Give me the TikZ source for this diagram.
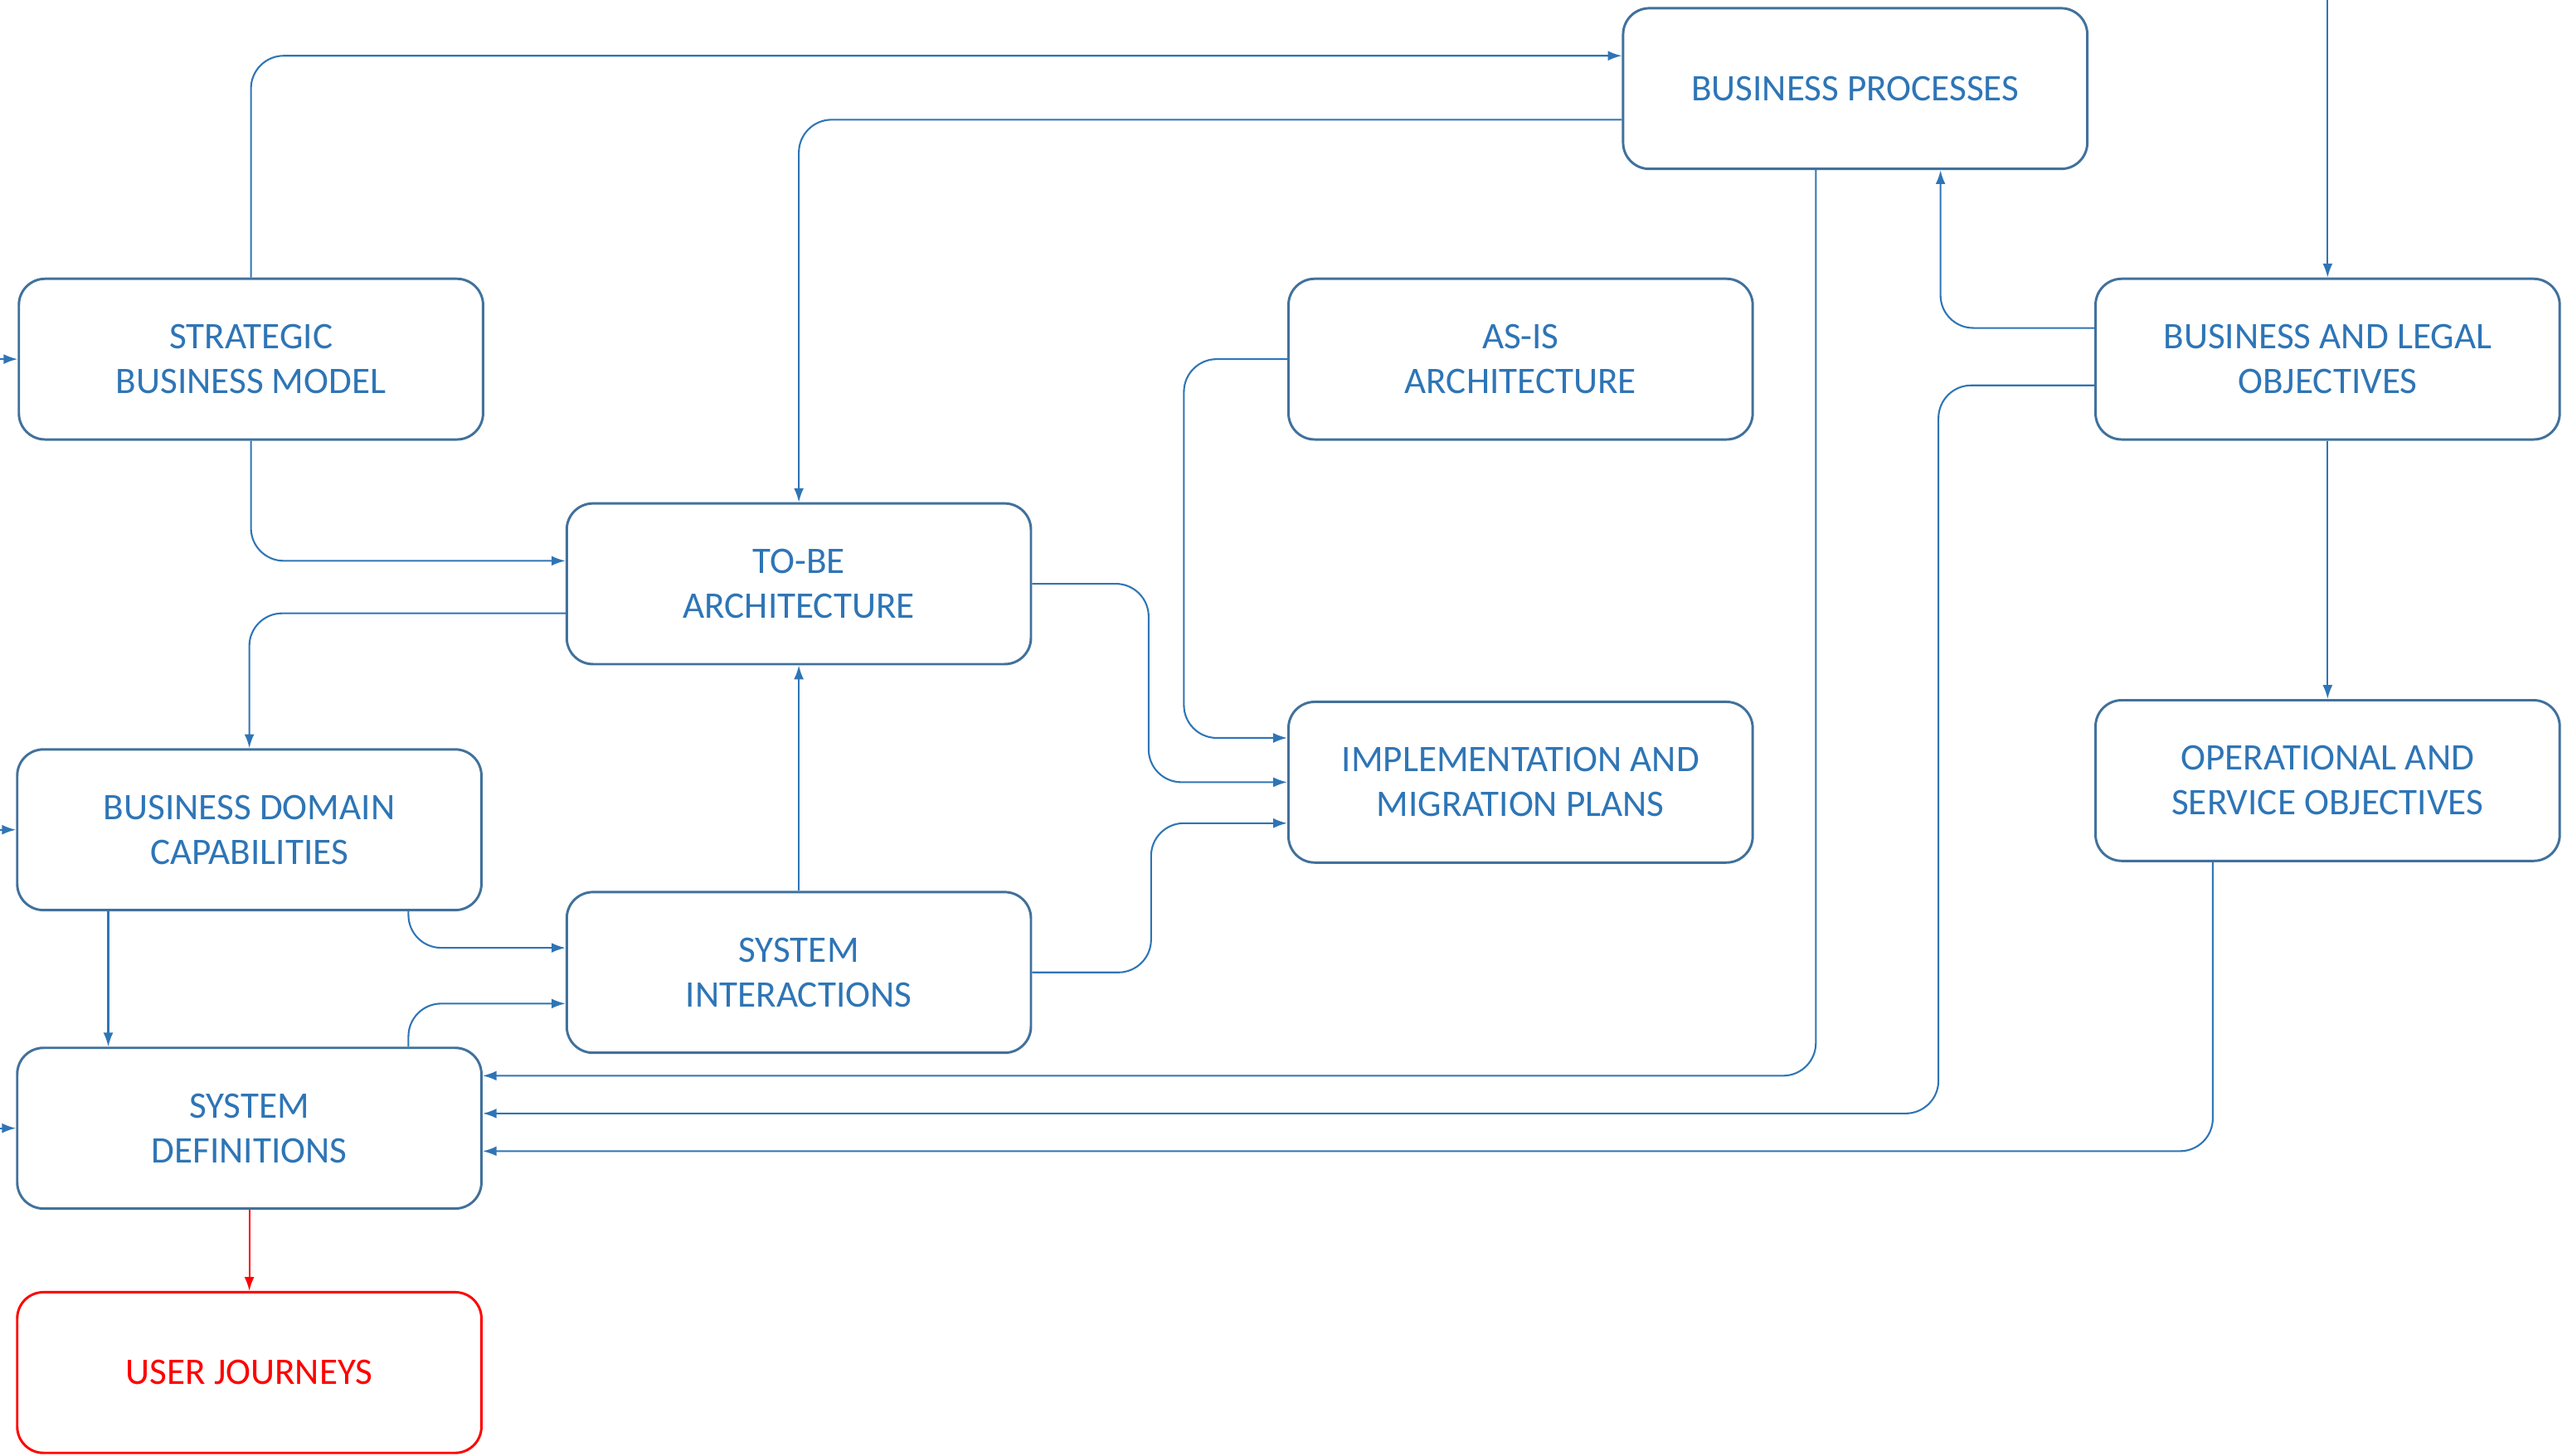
\documentclass[tikz,border=0pt]{standalone}
\usepackage{fontspec}
\setmainfont{Carlito}
\usepackage{tikz}
\usetikzlibrary{arrows.meta, positioning}

\definecolor{linkblue}{HTML}{2E75B6}
\definecolor{edgeblue}{HTML}{41719C}

\begin{document}
\begin{tikzpicture}[box/.style={rectangle, rounded corners=0.32cm, draw=edgeblue, line width=0.85pt, minimum width=5.66cm, minimum height=1.96cm, inner sep=0pt, align=center, text=linkblue, font=\fontsize{13}{15.5}\selectfont},
	journey/.style={box, draw=red, text=red},
	conn/.style={->, draw=linkblue, line width=0.6pt, rounded corners=0.4cm},
	>={Latex[length=1.7mm,width=1.2mm]}]
			\useasboundingbox (0,0) rectangle (31.36,-17.75);

			\node[box] (sbm) at (3.06,-4.38) {STRATEGIC\\BUSINESS MODEL};
			\node[box] (bp) at (22.62,-1.08) {BUSINESS PROCESSES};
			\node[box] (tba) at (9.74,-7.12) {TO-BE\\ARCHITECTURE};
			\node[box] (asis) at (18.54,-4.38) {AS-IS\\ARCHITECTURE};
			\node[box] (blo) at (28.38,-4.38) {BUSINESS AND LEGAL\\OBJECTIVES};
			\node[box] (bdc) at (3.04,-10.12) {BUSINESS DOMAIN\\CAPABILITIES};
			\node[box] (imp) at (18.54,-9.54) {IMPLEMENTATION AND\\MIGRATION PLANS};
			\node[box] (oso) at (28.38,-9.52) {OPERATIONAL AND\\SERVICE OBJECTIVES};
			\node[box] (si) at (9.74,-11.86) {SYSTEM\\INTERACTIONS};
			\node[box] (sd) at (3.04,-13.76) {SYSTEM\\DEFINITIONS};
			\node[journey] (uj) at (3.04,-16.74) {USER JOURNEYS};

			% free ends at the edges of the picture
			\coordinate (top) at (28.38,0);
			\coordinate (insbm) at (0,-4.38);
			\coordinate (inbdc) at (0,-10.12);
			\coordinate (insd) at (0,-13.76);

			\draw[conn] (sbm.north) |- ([yshift=0.40cm]bp.west);
			\draw[conn] ([yshift=-0.38cm]bp.west) -| (tba.north);
			\draw[conn] (sbm.south) |- ([yshift=0.28cm]tba.west);
			\draw[conn] ([yshift=-0.36cm]tba.west) -| (bdc.north);
			\draw[conn] (tba.east) -- ++(1.42,0) |- (imp.west);
			\draw[conn] (asis.west) -- ++(-1.26,0) |- ([yshift=0.54cm]imp.west);
			\draw[conn] (si.east) -- ++(1.45,0) |- ([yshift=-0.50cm]imp.west);
			\draw[conn] (si.north) -- (tba.south);
			\draw[conn] ([xshift=1.94cm]bdc.south) |- ([yshift=0.30cm]si.west);
			\draw[conn] ([xshift=1.94cm]sd.north) |- ([yshift=-0.38cm]si.west);
			\draw[conn] ([xshift=-1.72cm]bdc.south) -- ([xshift=-1.72cm]sd.north);
			\draw[conn, draw=red] (sd.south) -- (uj.north);

			\draw[conn] ([xshift=-0.48cm]bp.south) |- ([yshift=0.64cm]sd.east);
			\draw[conn] ([yshift=-0.32cm]blo.west) -- ++(-1.90,0) |- ([yshift=0.18cm]sd.east);
			\draw[conn] ([xshift=-1.40cm]oso.south) |- ([yshift=-0.28cm]sd.east);
			\draw[conn] ([yshift=0.38cm]blo.west) -| ([xshift=1.04cm]bp.south);
			\draw[conn] (top) -- (blo.north);
			\draw[conn] (blo.south) -- (oso.north);

			\draw[conn] (insbm) -- (sbm.west);
			\draw[conn] (inbdc) -- (bdc.west);
			\draw[conn] (insd) -- (sd.west);
		\end{tikzpicture}
\end{document}
